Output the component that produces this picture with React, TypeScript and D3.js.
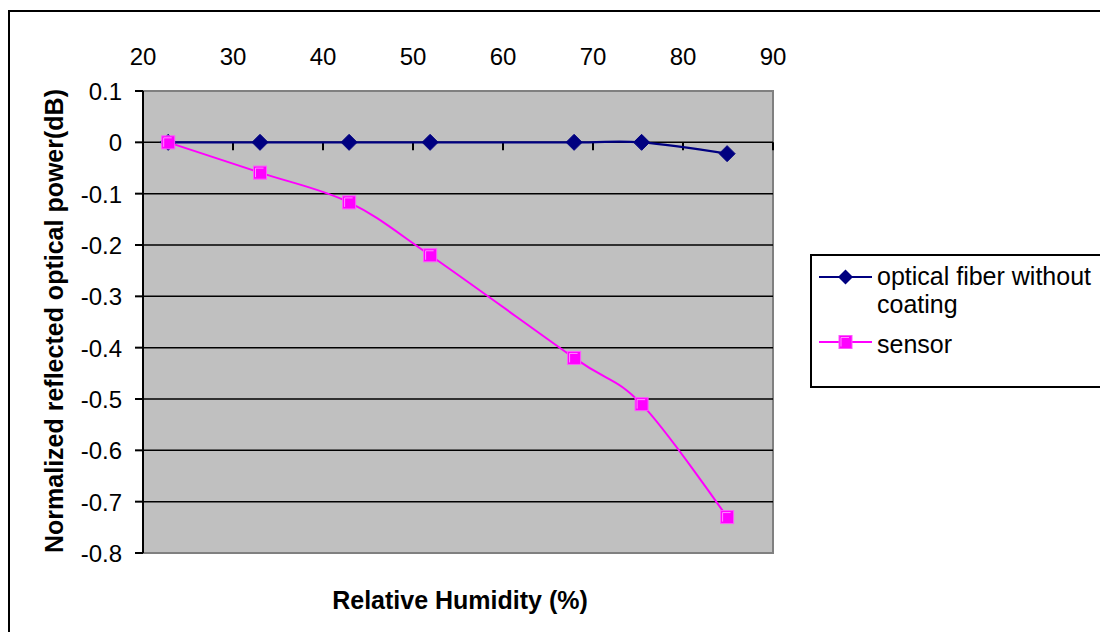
import React from "react";
import * as d3 from "d3";

// Relative humidity (%) at each measurement
const humidity = [22.8, 33, 42.9, 51.9, 67.9, 75.4, 84.9];
// Normalized reflected optical power (dB)
const fiberValues = [0, 0, 0, 0, 0, 0, -0.022];
const sensorValues = [0, -0.059, -0.117, -0.22, -0.42, -0.51, -0.73];

const xTicks = [20, 30, 40, 50, 60, 70, 80, 90];
const yTicks = [0.1, 0, -0.1, -0.2, -0.3, -0.4, -0.5, -0.6, -0.7, -0.8];

const seriesNames = ["optical fiber without", "coating"];
const sensorName = "sensor";

const W = 1100;
const H = 632;
const plot = { left: 143, right: 773, top: 91, bottom: 553 };

const FIBER = "#000080";
const SENSOR = "#FF00FF";
const FONT = "Arial, 'Liberation Sans', sans-serif";

export default function App() {
  const x = d3.scaleLinear().domain([20, 90]).range([plot.left, plot.right]);
  const y = d3.scaleLinear().domain([-0.8, 0.1]).range([plot.bottom, plot.top]);

  const line = d3
    .line<[number, number]>()
    .x((d) => x(d[0]))
    .y((d) => y(d[1]))
    .curve(d3.curveCardinal.tension(0));

  const fiberPts = humidity.map((h, i) => [h, fiberValues[i]] as [number, number]);
  const sensorPts = humidity.map((h, i) => [h, sensorValues[i]] as [number, number]);

  const diamond = (cx: number, cy: number, r: number) =>
    `M${cx},${cy - r}L${cx + r},${cy}L${cx},${cy + r}L${cx - r},${cy}Z`;

  const square = (cx: number, cy: number, key: string | number) => (
    <g key={key}>
      <rect x={cx - 6.5} y={cy - 6.5} width={13} height={13} fill={SENSOR} stroke="#FF55FF" strokeWidth={1} />
      <path d={`M${cx - 4.5},${cy + 4.5}V${cy - 4.5}H${cx + 3.5}`} fill="none" stroke="#FFB0FF" strokeWidth={0.8} />
    </g>
  );

  const tickText = (t: number) => String(+t.toFixed(1));

  const legendX1 = 819;
  const legendX2 = 872;
  const legendMid = (legendX1 + legendX2) / 2;
  const fiberLegendY = 277;
  const sensorLegendY = 342;

  return (
    <svg
      width={W}
      height={H}
      style={{ position: "absolute", left: 0, top: 0, display: "block", background: "#fff" }}
      fontFamily={FONT}
    >
      {/* chart frame */}
      <rect x={9} y={11} width={1110} height={640} fill="#fff" stroke="#000" strokeWidth={2} />

      {/* plot area */}
      <rect
        x={plot.left}
        y={plot.top}
        width={plot.right - plot.left}
        height={plot.bottom - plot.top}
        fill="#C0C0C0"
        stroke="#808080"
        strokeWidth={2}
      />

      {/* horizontal gridlines */}
      {yTicks
        .filter((t) => t < 0 && t > -0.8)
        .map((t) => (
          <line key={t} x1={plot.left} x2={plot.right} y1={y(t)} y2={y(t)} stroke="#000" strokeWidth={1.5} />
        ))}

      {/* y axis */}
      <line x1={plot.left} x2={plot.left} y1={plot.top} y2={plot.bottom} stroke="#000" strokeWidth={2} />
      {yTicks.map((t) => (
        <g key={t}>
          <line x1={plot.left - 8} x2={plot.left} y1={y(t)} y2={y(t)} stroke="#000" strokeWidth={2} />
          <text x={122} y={y(t) + 9} textAnchor="end" fontSize={24} fill="#000">
            {tickText(t)}
          </text>
        </g>
      ))}

      {/* x axis along the zero line */}
      <line x1={plot.left} x2={plot.right} y1={y(0)} y2={y(0)} stroke="#000" strokeWidth={1.5} />
      {xTicks.map((t) => (
        <g key={t}>
          <line x1={x(t)} x2={x(t)} y1={y(0)} y2={y(0) + 8} stroke="#000" strokeWidth={2} />
          <text x={x(t)} y={65} textAnchor="middle" fontSize={24} fill="#000">
            {t}
          </text>
        </g>
      ))}

      {/* series lines */}
      <path d={line(fiberPts) ?? ""} fill="none" stroke={FIBER} strokeWidth={2.2} />
      <path d={line(sensorPts) ?? ""} fill="none" stroke={SENSOR} strokeWidth={2} />

      {/* markers */}
      {fiberPts.map((p, i) => (
        <path key={`f${i}`} d={diamond(x(p[0]), y(p[1]), 8)} fill={FIBER} stroke={FIBER} strokeWidth={1} />
      ))}
      {sensorPts.map((p, i) => square(x(p[0]), y(p[1]), `s${i}`))}

      {/* axis titles */}
      <text x={460} y={609} textAnchor="middle" fontSize={25} fontWeight="bold" fill="#000">
        Relative Humidity (%)
      </text>
      <text
        transform={`translate(63,${(plot.top + plot.bottom) / 2 - 1}) rotate(-90)`}
        textAnchor="middle"
        fontSize={25}
        fontWeight="bold"
        fill="#000"
      >
        Normalized reflected optical power(dB)
      </text>

      {/* legend */}
      <rect x={811} y={255} width={320} height={132} fill="#fff" stroke="#000" strokeWidth={2} />
      <line x1={legendX1} x2={legendX2} y1={fiberLegendY} y2={fiberLegendY} stroke={FIBER} strokeWidth={2.2} />
      <path d={diamond(legendMid, fiberLegendY, 7.5)} fill={FIBER} />
      <text x={877} y={285} fontSize={25} fill="#000">
        {seriesNames[0]}
      </text>
      <text x={877} y={313} fontSize={25} fill="#000">
        {seriesNames[1]}
      </text>
      <line x1={legendX1} x2={legendX2} y1={sensorLegendY} y2={sensorLegendY} stroke={SENSOR} strokeWidth={2} />
      {square(legendMid, sensorLegendY, "ls")}
      <text x={877} y={353} fontSize={25} fill="#000">
        {sensorName}
      </text>
    </svg>
  );
}
